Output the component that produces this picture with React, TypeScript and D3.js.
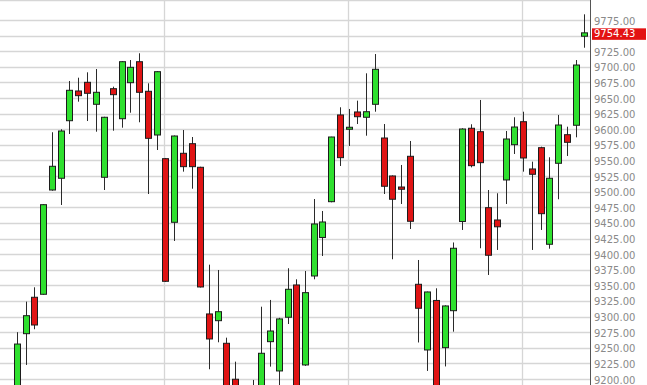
import React from "react";
import * as d3 from "d3";

// Daily OHLC sessions, oldest first
const opens = [
  9185, 9272.6, 9330.9, 9335.7, 9502.7, 9521.5, 9613.7, 9661.3, 9675.2, 9640,
  9523.1, 9665, 9616.9, 9674.6, 9708.2, 9660.8, 9590.8, 9552.9, 9451, 9561.5,
  9576.9, 9539.1, 9304.2, 9293.4, 9257.2, 9199.6, 9160, 9165, 9180, 9259.8,
  9212.9, 9298.9, 9350.6, 9222.5, 9365, 9426.7, 9484, 9622.9, 9600, 9627.7,
  9619.2, 9640, 9586, 9525.2, 9507.5, 9556.7, 9351.7, 9246.5, 9325.8, 9250.2,
  9309.4, 9452.3, 9601.6, 9596.1, 9474.4, 9454.7, 9518.8, 9575.3, 9612.1, 9536.4,
  9570.5, 9415.8, 9545.5, 9591.3, 9606.4, 9749,
];
const highs = [
  9275, 9323.9, 9346.9, 9480, 9595.2, 9600, 9677.3, 9682.6, 9691.2, 9696.5,
  9620, 9668.2, 9709, 9710.9, 9721.7, 9673.6, 9693, 9554, 9590, 9598.8,
  9587.6, 9540, 9383.1, 9374.6, 9266.2, 9227.8, 9185, 9198.5, 9315.8, 9326.6,
  9298, 9377.4, 9359.7, 9373, 9488.3, 9469.1, 9588, 9635.2, 9632.5, 9645.8,
  9689.6, 9720.5, 9608.4, 9526, 9542.8, 9581.2, 9390.6, 9340, 9345.3, 9318,
  9418.7, 9601.6, 9608, 9646.9, 9502.7, 9497.5, 9597.2, 9619.2, 9628.1, 9548.1,
  9572.1, 9555.1, 9622.9, 9604.1, 9710.9, 9784.1,
];
const lows = [
  9170, 9222.5, 9279.7, 9335, 9501.6, 9478.7, 9592.4, 9644.2, 9613.2, 9596.1,
  9502.7, 9597.7, 9602.5, 9626.5, 9611.2, 9496.3, 9566.8, 9355.5, 9421.1, 9532.1,
  9504.8, 9346.5, 9215.6, 9258.8, 9150, 9135, 9120, 9140, 9170, 9219.8,
  9185, 9288.1, 9170, 9221, 9359.7, 9397, 9483, 9541.2, 9573.2, 9608.4,
  9589.7, 9628.1, 9496.3, 9391.8, 9480.3, 9440.3, 9258.5, 9212.9, 9170, 9220.1,
  9275.8, 9438.7, 9539, 9409.4, 9366.6, 9406.7, 9480.3, 9560.4, 9532.1, 9406.7,
  9438.7, 9408.7, 9487.9, 9557.2, 9587.1, 9730.6,
];
const closes = [
  9256, 9301.4, 9286.5, 9479.2, 9540.7, 9597.2, 9662.4, 9653.8, 9657.6, 9659.2,
  9619.2, 9655.4, 9708.2, 9699.2, 9659.2, 9585.5, 9692.2, 9356.5, 9589.2, 9540.1,
  9540.1, 9347.4, 9264.1, 9307.8, 9165, 9150, 9175, 9185, 9241.2, 9276.9,
  9296.2, 9343.7, 9180, 9338.3, 9448.3, 9451.5, 9587.6, 9554.5, 9603.2, 9620.1,
  9628.1, 9696, 9508.7, 9487.9, 9503.9, 9452.6, 9313.3, 9339.4, 9180, 9317,
  9409.4, 9600.4, 9541.7, 9546.5, 9398.2, 9443.8, 9584.4, 9603.6, 9554, 9527.9,
  9464.8, 9521.5, 9606.8, 9579.1, 9702.9, 9754.43,
];

// Sessions that open a new month (vertical separators)
const monthStarts = [17, 38, 58];

// Price axis ticks
const priceTicks = d3.range(9200, 9775 + 1, 25);

const W = 647;
const H = 385;
const axisX = 590.5;
const UP = "#2fe02f";
const DOWN = "#e01414";
const FONT = "'DejaVu Sans', Verdana, sans-serif";

export default function App() {
  const x = d3.scaleLinear().domain([0, opens.length - 1]).range([17, 584.3]);
  const y = d3.scaleLinear().domain([9200, 9775]).range([379, 20]);

  const lastClose = closes[closes.length - 1];
  const yLast = y(lastClose);
  // tick labels hidden behind the last-price marker are skipped
  const visibleTicks = priceTicks.filter((t) => Math.abs(y(t) - yLast) > 9);

  return (
    <div style={{ position: "fixed", left: 0, top: 0 }}>
      <svg width={W} height={H} style={{ display: "block", background: "#fff" }}>
        <defs>
          <clipPath id="plot">
            <rect x={0} y={0} width={axisX} height={H} />
          </clipPath>
        </defs>

        {/* horizontal grid */}
        {priceTicks.map((t) => (
          <line
            key={"h" + t}
            x1={0}
            x2={axisX}
            y1={Math.round(y(t)) + 0.5}
            y2={Math.round(y(t)) + 0.5}
            stroke="#d6d6d6"
            strokeWidth={1.3}
          />
        ))}
        <line x1={0} x2={axisX} y1={0.5} y2={0.5} stroke="#d6d6d6" strokeWidth={1.3} />

        {/* month separators */}
        {monthStarts.map((i) => (
          <line
            key={"v" + i}
            x1={Math.round(x(i)) - 0.5}
            x2={Math.round(x(i)) - 0.5}
            y1={0}
            y2={H}
            stroke="#d6d6d6"
            strokeWidth={1.3}
          />
        ))}

        {/* candles */}
        <g clipPath="url(#plot)">
          {opens.map((o, i) => {
            const c = closes[i];
            const cx = Math.round(x(i));
            const top = y(Math.max(o, c));
            const bot = y(Math.min(o, c));
            const up = c >= o;
            return (
              <g key={i}>
                <line
                  x1={cx + 0.5}
                  x2={cx + 0.5}
                  y1={y(highs[i])}
                  y2={y(lows[i])}
                  stroke="#2a2a2a"
                  strokeWidth={1}
                />
                <rect
                  x={cx - 2.5}
                  y={top}
                  width={6}
                  height={Math.max(1.5, bot - top)}
                  fill={up ? UP : DOWN}
                  stroke="#1c1c1c"
                  strokeWidth={1}
                />
              </g>
            );
          })}
        </g>

        {/* price axis */}
        <line x1={axisX} x2={axisX} y1={0} y2={H} stroke="#555" strokeWidth={1} />
        {visibleTicks.map((t) => (
          <text
            key={"t" + t}
            x={594}
            y={y(t) + 1.5}
            dominantBaseline="middle"
            fontFamily={FONT}
            fontSize={10}
            fill="#8a8a8a"
          >
            {t.toFixed(2)}
          </text>
        ))}

        {/* last price marker */}
        <rect x={592} y={yLast - 4.5} width={54} height={11.5} fill="#e31212" />
        <text
          x={594}
          y={yLast + 1.5}
          dominantBaseline="middle"
          fontFamily={FONT}
          fontSize={10}
          fill="#fff"
        >
          {lastClose.toFixed(2)}
        </text>
      </svg>
    </div>
  );
}
